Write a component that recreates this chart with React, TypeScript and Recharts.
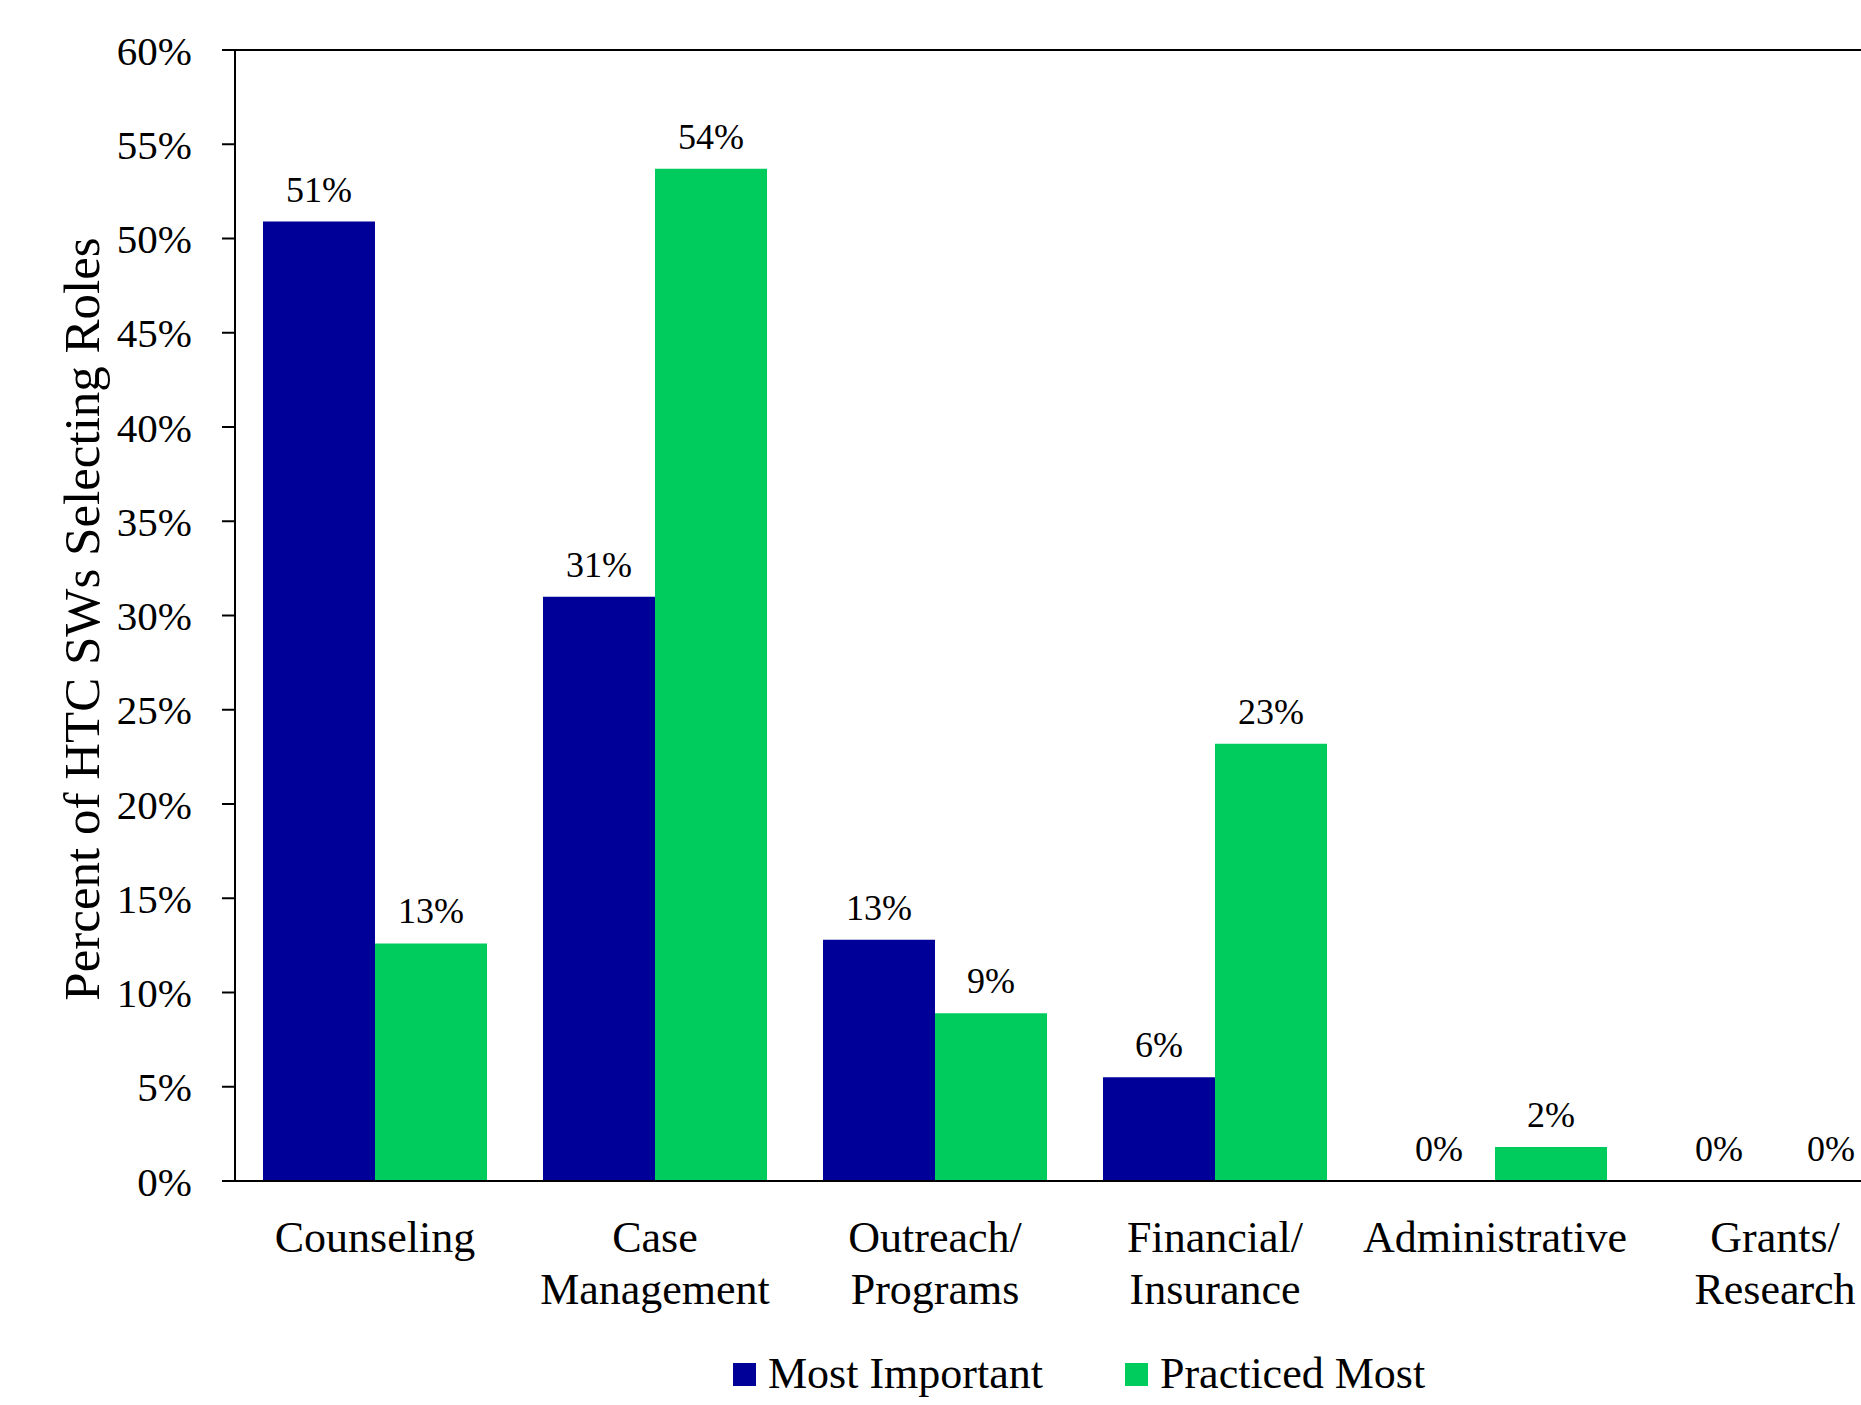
import { BarChart, Bar, XAxis, YAxis, LabelList, ReferenceLine } from "recharts";

const categories = [
  "Counseling",
  "Case\nManagement",
  "Outreach/\nPrograms",
  "Financial/\nInsurance",
  "Administrative",
  "Grants/\nResearch",
];
const mostImportant = [50.9, 31.0, 12.8, 5.5, 0, 0];
const practicedMost = [12.6, 53.7, 8.9, 23.2, 1.8, 0];
const yTicks = [0, 5, 10, 15, 20, 25, 30, 35, 40, 45, 50, 55, 60];

const series = [
  { key: "mostImportant", name: "Most Important", color: "#000099" },
  { key: "practicedMost", name: "Practiced Most", color: "#00CC5E" },
];

const FONT = '"Liberation Serif", "Times New Roman", serif';

const data = categories.map((c, i) => ({
  cat: c,
  mostImportant: mostImportant[i],
  practicedMost: practicedMost[i],
}));

function CatTick({ x, y, payload }: any) {
  const lines = String(payload.value).split("\n");
  return (
    <text x={x} y={y} textAnchor="middle" fontFamily={FONT} fontSize={44} fill="#000">
      {lines.map((l, i) => (
        <tspan key={i} x={x} dy={i === 0 ? 71 : 52}>
          {l}
        </tspan>
      ))}
    </text>
  );
}

function YTitle() {
  return (
    <text
      x={82}
      y={619}
      transform="rotate(-90, 82, 619)"
      textAnchor="middle"
      dominantBaseline="central"
      fontFamily={FONT}
      fontSize={51}
      fill="#000"
    >
      Percent of HTC SWs Selecting Roles
    </text>
  );
}

export default function App() {
  return (
    <div
      style={{
        position: "fixed",
        left: 0,
        top: 0,
        width: 1861,
        height: 1405,
        overflow: "hidden",
        background: "#fff",
      }}
    >
      <BarChart
        width={1930}
        height={1405}
        data={data}
        margin={{ top: 50, right: 15, bottom: 0, left: 0 }}
        barCategoryGap="10%"
        barGap={0}
      >
        <XAxis
          dataKey="cat"
          height={224}
          tickLine={false}
          tickSize={0}
          tickMargin={0}
          axisLine={{ stroke: "#000", strokeWidth: 2 }}
          tick={<CatTick />}
          interval={0}
        />
        <YAxis
          width={235}
          domain={[0, 60]}
          ticks={yTicks}
          tickFormatter={(v: number) => `${v}%`}
          tickSize={13}
          tickMargin={30}
          tickLine={{ stroke: "#000", strokeWidth: 2 }}
          axisLine={{ stroke: "#000", strokeWidth: 2 }}
          tick={{ fontFamily: FONT, fontSize: 41, fill: "#000" }}
          label={{ content: () => <YTitle /> }}
        />
        <ReferenceLine y={60} stroke="#000" strokeWidth={2} />
        {series.map((s) => (
          <Bar
            key={s.key}
            dataKey={s.key}
            name={s.name}
            fill={s.color}
            minPointSize={0.01}
            isAnimationActive={false}
          >
            <LabelList
              dataKey={s.key}
              position="top"
              offset={20}
              formatter={(v: any) => `${Math.round(Number(v))}%`}
              style={{ fontFamily: FONT, fontSize: 36, fill: "#000" }}
            />
          </Bar>
        ))}
      </BarChart>
      <div
        style={{
          position: "absolute",
          left: 733,
          top: 1350,
          height: 48,
          display: "flex",
          alignItems: "center",
          gap: 82,
          fontFamily: FONT,
          fontSize: 44,
          lineHeight: "48px",
          whiteSpace: "nowrap",
        }}
      >
        {series.map((s) => (
          <div key={s.key} style={{ display: "flex", alignItems: "center" }}>
            <span style={{ display: "inline-block", width: 23, height: 23, background: s.color, marginRight: 12 }} />
            <span>{s.name}</span>
          </div>
        ))}
      </div>
    </div>
  );
}
